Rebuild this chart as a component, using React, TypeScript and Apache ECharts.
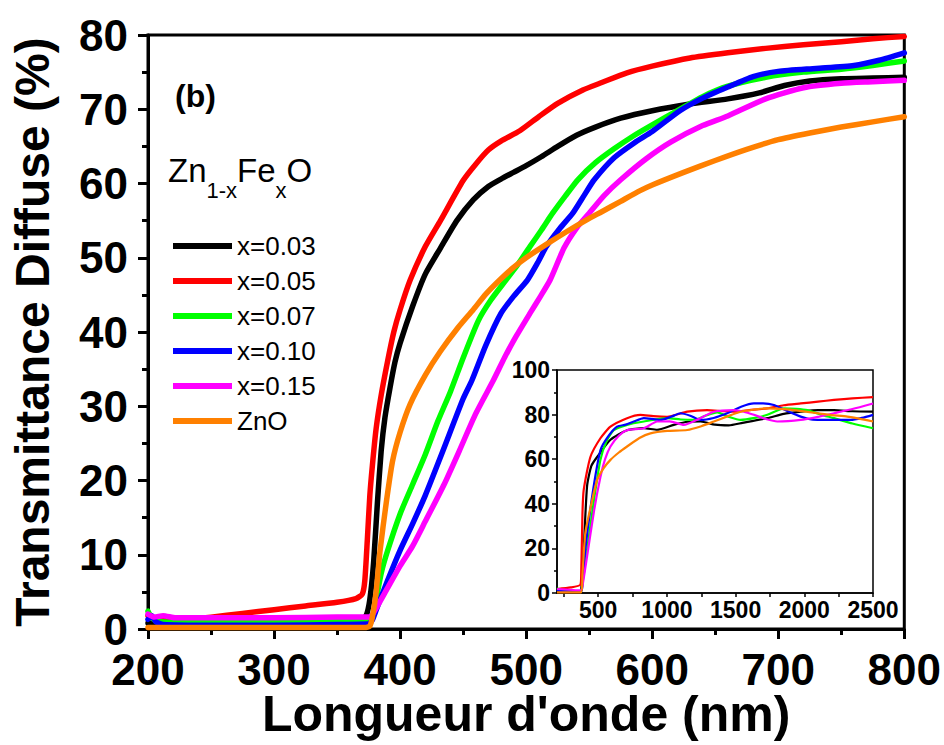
import React, { useEffect, useRef } from "react";
import * as echarts from "echarts";

const FONT = '"Liberation Sans", Arial, Helvetica, sans-serif';

const seriesNames = ["x=0.03", "x=0.05", "x=0.07", "x=0.10", "x=0.15", "ZnO"];
const seriesColors = ["#000000", "#ff0000", "#00ff00", "#0000ff", "#ff00ff", "#ff8000"];

const xTicksMain = [200, 300, 400, 500, 600, 700, 800];
const yTicksMain = [0, 10, 20, 30, 40, 50, 60, 70, 80];
const insetXLabels = [500, 1000, 1500, 2000, 2500];
const insetXTicks = [250, 500, 750, 1000, 1250, 1500, 1750, 2000, 2250, 2500];

// Main panel: [wavelength nm, transmittance %]
const mainX003 = [[200,0.8],[230,0.7],[260,0.7],[300,0.8],[340,0.9],[368,1.1],[373,1.8],[376,4],[379,9],[382,17],[385,24],[388,28.5],[392,32.5],[396,36],[400,38.5],[410,43.5],[420,47.8],[432,51.3],[445,55],[458,57.8],[470,59.6],[480,60.6],[490,61.5],[500,62.4],[512,63.6],[525,65],[540,66.5],[555,67.6],[575,68.8],[600,69.8],[630,70.7],[660,71.4],[685,72.2],[705,73.2],[725,73.8],[750,74.1],[775,74.2],[800,74.3]];
const mainX005 = [[200,1.8],[205,1.4],[215,1.2],[230,1.3],[250,1.6],[275,2.1],[300,2.6],[325,3.1],[350,3.6],[365,4.1],[370,4.7],[372,6.5],[374,12],[376,18],[378,22],[381,27],[385,31.5],[390,36],[395,40],[400,43],[408,47],[420,51.5],[432,55],[450,60.4],[460,62.6],[470,64.5],[480,65.7],[495,67.1],[510,69],[525,70.8],[545,72.6],[560,73.6],[580,74.9],[600,75.8],[630,76.9],[660,77.6],[690,78.2],[720,78.7],[750,79.1],[775,79.5],[800,79.8]];
const mainX007 = [[200,2.4],[203,1.5],[208,1.0],[230,0.9],[260,0.9],[300,1.0],[340,1.0],[375,1.0],[378,1.5],[381,4],[385,7.5],[390,10.5],[400,15.5],[410,19.5],[420,23.5],[430,28],[440,32],[450,36.5],[462,41.5],[472,44.3],[484,47],[493,49],[503,51.5],[512,53.7],[521,56],[531,58.3],[541,60.5],[555,62.8],[570,64.7],[585,66.4],[600,67.9],[620,69.8],[640,71.7],[660,73.1],[690,74.3],[720,75],[750,75.4],[775,75.9],[800,76.5]];
const mainX010 = [[200,1.3],[203,1.8],[206,1.0],[212,0.6],[250,0.5],[300,0.5],[350,0.6],[375,0.7],[378,1.2],[382,3],[390,6.5],[400,10.6],[410,14.2],[420,18],[434,24],[450,31],[457,33.5],[468,38.2],[480,42.5],[490,44.8],[501,47],[509,49.3],[516,51.5],[527,54],[537,56],[546,58.4],[554,60.5],[570,63.5],[586,65.5],[600,67],[622,69.8],[640,71.5],[660,73],[680,74.4],[700,75.1],[730,75.5],[760,75.9],[780,76.6],[800,77.6]];
const mainX015 = [[200,2.0],[205,1.6],[212,1.8],[222,1.5],[250,1.5],[300,1.5],[350,1.6],[376,1.6],[380,2.5],[390,5.5],[400,8.5],[410,11.2],[420,14.5],[435,19.5],[447,24],[460,29],[474,33.5],[483,36.6],[492,39.4],[503,42.5],[511,44.7],[519,47],[530,51.3],[540,54],[550,56],[562,58.4],[575,60.5],[595,63.3],[615,65.6],[640,67.8],[660,69.1],[690,71.4],[720,72.9],[750,73.5],[775,73.7],[800,73.9]];
const mainZnO = [[200,0.2],[300,0.2],[372,0.2],[376,0.4],[378,1.6],[381,5],[384,10.4],[389,17],[394,22.6],[400,26.5],[408,30.3],[420,34.2],[432,37.4],[446,40.6],[458,43],[468,45.1],[479,47],[490,48.7],[500,50],[516,51.8],[532,53.5],[548,55.1],[560,56.2],[575,57.6],[590,59],[600,59.8],[625,61.5],[650,63.1],[675,64.6],[700,65.9],[725,66.8],[750,67.6],[775,68.3],[800,69]];

// Inset panel: [wavelength nm, transmittance %]
const insetX003 = [[200,0.7],[370,0.7],[378,3],[394,19],[419,48],[450,57],[492,61],[589,68.7],[710,73],[832,73.9],[929,73.2],[1050,75.4],[1150,76.8],[1245,76.9],[1350,75.5],[1450,75.2],[1550,76.3],[1731,78.4],[1850,80.3],[1974,81.3],[2100,82],[2216,82],[2350,81.5],[2500,81.3]];
const insetX005 = [[200,1.8],[300,2.5],[370,3.7],[376,8],[385,35],[394,46],[443,61],[516,69.4],[589,74.6],[710,78.4],[807,79.9],[900,79.3],[1002,79],[1148,81.3],[1293,82],[1400,81.6],[1488,81.3],[1600,82],[1731,82.8],[1850,84.2],[1974,85],[2100,85.8],[2216,86.6],[2350,87.3],[2500,87.8]];
const insetX007 = [[200,2.2],[230,1],[375,0.8],[385,4],[419,19.4],[470,42],[516,59.7],[560,68],[613,73],[710,75.4],[832,76.9],[1002,78.4],[1100,77.8],[1196,77.6],[1280,79.5],[1366,81],[1450,79],[1536,77.6],[1640,78.5],[1731,79.9],[1852,82.8],[1940,82.6],[2022,82],[2120,80],[2216,78.4],[2350,76],[2500,73.9]];
const insetX010 = [[200,1.5],[230,0.8],[375,0.6],[385,4],[406,19.4],[460,45],[516,64],[570,70],[637,74.6],[700,75.5],[759,76.9],[832,78.4],[900,78],[953,77.6],[1030,79],[1099,80.6],[1170,79.5],[1245,77.6],[1340,78.5],[1439,80.6],[1540,83.5],[1633,85],[1700,85],[1779,84.3],[1880,81.5],[1974,79.1],[2050,77.8],[2119,77.6],[2338,77.6],[2420,78.5],[2500,79.9]];
const insetX015 = [[200,1.8],[375,1.2],[385,3],[419,16.4],[470,37],[516,52],[550,60],[589,65.7],[650,70.5],[710,73],[832,73.9],[929,76.9],[1020,77],[1123,75.4],[1230,78],[1342,81.3],[1488,82],[1560,81.3],[1633,79.9],[1720,78],[1803,76.9],[1974,77.6],[2100,79],[2216,80.6],[2350,82.5],[2500,85]];
const insetZnO = [[200,0.3],[375,0.3],[385,8],[406,26.9],[450,40],[492,50.7],[540,56],[589,59.7],[650,63],[710,65.7],[800,69.5],[880,71.6],[1002,72.7],[1148,73.1],[1250,74.8],[1342,76.9],[1440,79.2],[1536,81.3],[1640,82.3],[1731,82.8],[1830,82.6],[1925,82],[2095,80.6],[2200,79.8],[2313,79.1],[2400,78.2],[2500,76.9]];

const mainData = [mainX003, mainX005, mainX007, mainX010, mainX015, mainZnO];
const insetData = [insetX003, insetX005, insetX007, insetX010, insetX015, insetZnO];

export default function App() {
  const ref = useRef<HTMLDivElement>(null);

  useEffect(() => {
    if (!ref.current) return;
    const chart = echarts.init(ref.current, null, { renderer: "svg" });

    const black = "#000";
    const mainSeries = mainData.map((d, i) => ({
      name: seriesNames[i],
      type: "line",
      xAxisIndex: 0,
      yAxisIndex: 0,
      data: d,
      showSymbol: false,
      smooth: 0.2,
      lineStyle: { width: 5.5, color: seriesColors[i], cap: "round", join: "round" },
      itemStyle: { color: seriesColors[i] },
      z: 3 + i,
    }));
    const insetSeries = insetData.map((d, i) => ({
      name: seriesNames[i],
      type: "line",
      xAxisIndex: 1,
      yAxisIndex: 1,
      data: d,
      showSymbol: false,
      smooth: 0.2,
      lineStyle: { width: 2.2, color: seriesColors[i], join: "round" },
      itemStyle: { color: seriesColors[i] },
      z: 3 + i,
    }));

    const option: any = {
      animation: false,
      backgroundColor: "#fff",
      textStyle: { fontFamily: FONT },
      grid: [
        { left: 147, top: 35, width: 758, height: 594, show: true, borderColor: black, borderWidth: 3, containLabel: false },
        { left: 557, top: 370, width: 316, height: 223, show: true, borderColor: black, borderWidth: 1.5, containLabel: false },
      ],
      xAxis: [
        {
          type: "value", gridIndex: 0, min: xTicksMain[0], max: xTicksMain[xTicksMain.length - 1], interval: 100,
          name: "Longueur d'onde (nm)", nameLocation: "middle", nameGap: 63, nameMoveOverlap: false,
          nameTextStyle: { fontSize: 50, lineHeight: 44, fontWeight: "bold", color: black, fontFamily: FONT },
          axisLine: { show: true, onZero: false, lineStyle: { color: black, width: 3 } },
          axisTick: { show: true, inside: false, length: 10, lineStyle: { color: black, width: 3 } },
          minorTick: { show: true, splitNumber: 2, length: 6, lineStyle: { color: black, width: 3 } },
          axisLabel: { fontSize: 44, lineHeight: 34, fontWeight: "bold", color: black, fontFamily: FONT, margin: 23 },
          splitLine: { show: false },
        },
        {
          type: "value", gridIndex: 1, min: 200, max: 2500,
          axisLine: { show: true, onZero: false, lineStyle: { color: black, width: 1.5 } },
          axisTick: { show: true, inside: false, length: 4, customValues: insetXTicks, lineStyle: { color: black, width: 1.5 } },
          axisLabel: {
            fontSize: 23, fontWeight: "bold", color: black, fontFamily: FONT, margin: 5,
            customValues: insetXLabels, formatter: (v: number) => String(v),
          },
          splitLine: { show: false },
        },
      ],
      yAxis: [
        {
          type: "value", gridIndex: 0, min: yTicksMain[0], max: yTicksMain[yTicksMain.length - 1], interval: 10,
          name: "Transmittance Diffuse (%)", nameLocation: "middle", nameGap: 92, nameRotate: 90,
          nameTextStyle: { fontSize: 48, fontWeight: "bold", color: black, fontFamily: FONT },
          axisLine: { show: true, onZero: false, lineStyle: { color: black, width: 3 } },
          axisTick: { show: true, inside: false, length: 10, lineStyle: { color: black, width: 3 } },
          minorTick: { show: true, splitNumber: 2, length: 6, lineStyle: { color: black, width: 3 } },
          axisLabel: { fontSize: 44, lineHeight: 34, fontWeight: "bold", color: black, fontFamily: FONT, margin: 20 },
          splitLine: { show: false },
        },
        {
          type: "value", gridIndex: 1, min: 0, max: 100, interval: 20,
          axisLine: { show: true, onZero: false, lineStyle: { color: black, width: 1.5 } },
          axisTick: { show: true, inside: false, length: 5, lineStyle: { color: black, width: 1.5 } },
          minorTick: { show: true, splitNumber: 2, length: 3, lineStyle: { color: black, width: 1.5 } },
          axisLabel: { fontSize: 23, fontWeight: "bold", color: black, fontFamily: FONT, margin: 7 },
          splitLine: { show: false },
        },
      ],
      legend: {
        orient: "vertical", left: 168, top: 228, itemWidth: 59, itemHeight: 6, itemGap: 9,
        icon: "rect", selectedMode: false, data: seriesNames,
        textStyle: { fontSize: 26, color: black, fontFamily: FONT, lineHeight: 26 },
      },
      graphic: [
        { type: "text", left: 175, top: 80, style: { text: "(b)", font: `bold 32px ${FONT}`, fill: black } },
        { type: "text", x: 168, y: 170, style: { text: "Zn", font: `33px ${FONT}`, fill: black, verticalAlign: "middle" } },
        { type: "text", x: 206.5, y: 190, style: { text: "1-x", font: `22px ${FONT}`, fill: black, verticalAlign: "middle" } },
        { type: "text", x: 237, y: 170, style: { text: "Fe", font: `33px ${FONT}`, fill: black, verticalAlign: "middle" } },
        { type: "text", x: 275.5, y: 190, style: { text: "x", font: `22px ${FONT}`, fill: black, verticalAlign: "middle" } },
        { type: "text", x: 286.5, y: 170, style: { text: "O", font: `33px ${FONT}`, fill: black, verticalAlign: "middle" } },
      ],
      series: [...mainSeries, ...insetSeries],
    };

    chart.setOption(option);
    return () => chart.dispose();
  }, []);

  return (
    <div
      ref={ref}
      style={{ position: "fixed", left: 0, top: 0, width: 944, height: 745, background: "#fff" }}
    />
  );
}
